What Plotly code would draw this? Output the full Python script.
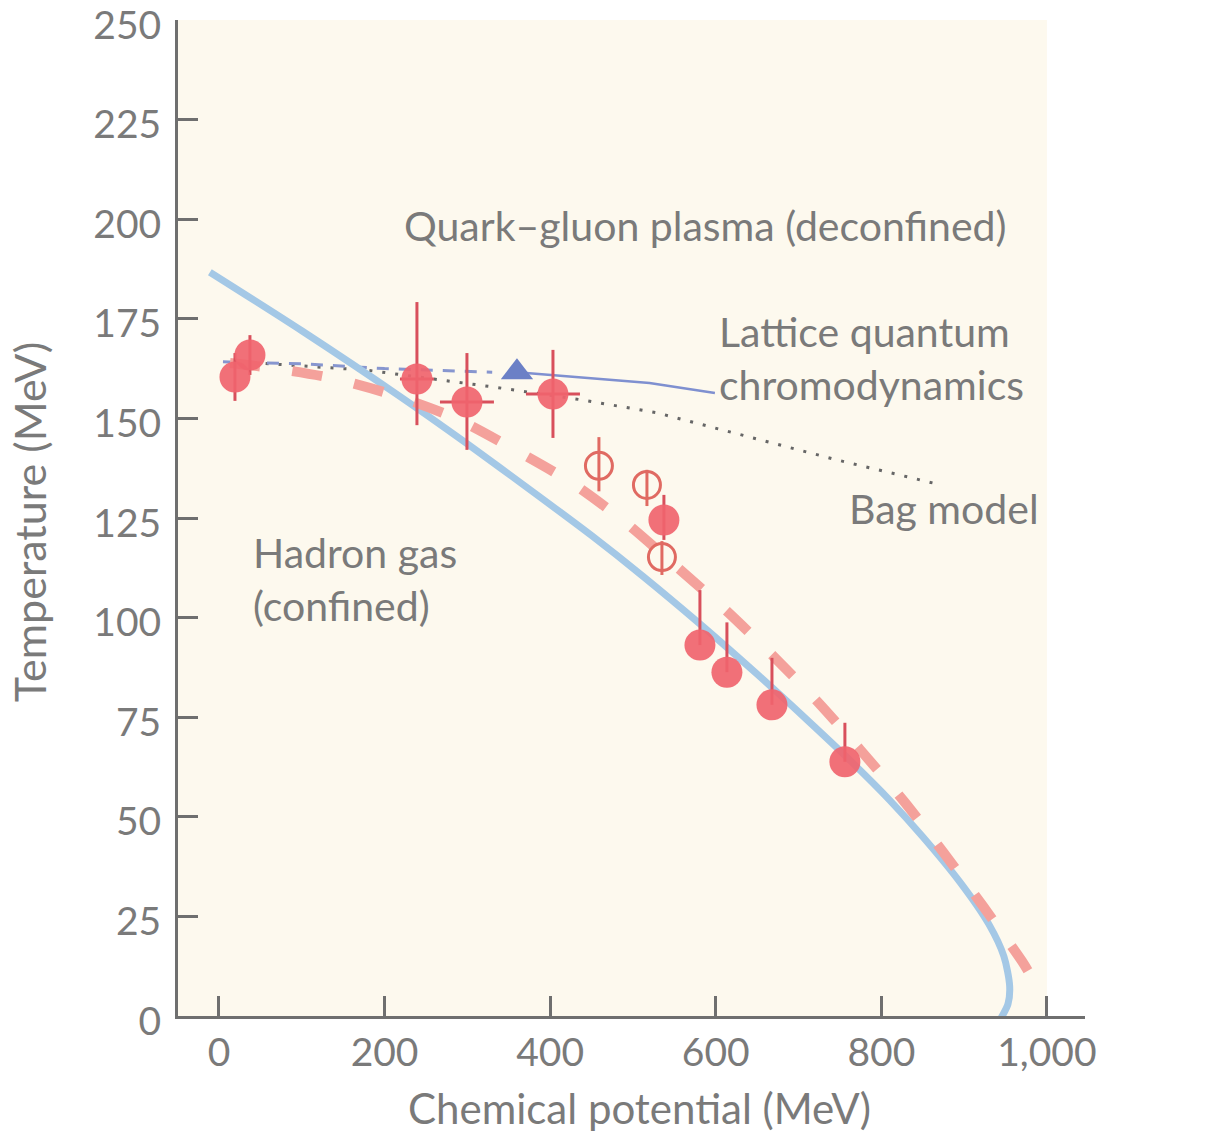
import plotly.graph_objects as go

# ---------------- data ----------------
# Blue solid phase boundary curve
curve_mu = [-11, 100, 218, 300, 379, 450, 512, 581, 650, 710, 760, 810, 850, 895, 930, 948, 955, 953, 946, 938]
curve_T = [186.7, 172.0, 155.6, 143.6, 131.6, 120.6, 110.4, 98.4, 85.8, 74.4, 64.6, 54.2, 45.0, 33.6, 23.0, 15.0, 7.5, 3.0, 0.0, -2.8]

# Red dashed freeze-out curve
fo_mu = [13.3, 61.6, 136.5, 210.1, 285.0, 357.5, 426.3, 490.3, 553.1, 613.5, 669.1, 723.4, 774.2, 828.5, 874.4, 922.7, 969.8, 979.5]
fo_T = [163.9, 162.7, 160.1, 155.9, 150.1, 142.1, 133.8, 124.0, 112.7, 101.6, 90.4, 78.8, 66.9, 53.6, 41.2, 27.6, 13.8, 10.5]

# Lattice QCD (dashed part, solid part)
lat_dash_mu = [4.8, 100, 200, 330]
lat_dash_T = [164.2, 163.7, 162.5, 161.6]
lat_solid_mu = [360, 520, 599]
lat_solid_T = [161.6, 158.9, 156.4]

# Bag model (dotted)
bag_mu = [25, 179, 331, 440, 529, 641, 746, 862]
bag_T = [164.2, 162.1, 157.9, 154.6, 151.4, 145.3, 139.6, 133.8]

# Filled data points
fill_mu = [37.4, 19.3, 239.1, 299.5, 403.4, 537.4, 580.9, 613.5, 667.9, 756.0]
fill_T = [165.9, 160.4, 159.9, 154.1, 156.1, 124.5, 93.1, 86.3, 78.1, 63.8]
fill_err_up = [5, 6, 19.3, 12.3, 11.1, 6.3, 13.8, 12.5, 11.8, 9.8]
fill_err_dn = [5, 6, 11.6, 12.0, 11.0, 5.0, 0, 0, 0, 0]
fill_xerr = [0, 0, 20.5, 32.6, 32.6, 0, 0, 0, 0, 0]

# Open data points
open_mu = [458.9, 516.9, 535.0]
open_T = [138.1, 133.3, 115.2]
open_err_up = [7.2, 3.8, 4.0]
open_err_dn = [6.4, 5.3, 4.5]

# Lattice point (triangle)
tri_mu = [359.9]
tri_T = [161.6]

x_ticks = [0, 200, 400, 600, 800, 1000]
x_ticktext = ["0", "200", "400", "600", "800", "1,000"]
y_ticks = [0, 25, 50, 75, 100, 125, 150, 175, 200, 225, 250]

FONT = "Lato"
GREY = "#7a7a7a"
AXC = "#6f6f6f"
TXT = 41

fig = go.Figure()

# cream background panel
fig.add_shape(type="rect", xref="x", yref="y", x0=-49.5, x1=1000, y0=0, y1=250,
              fillcolor="#fdf9ee", line_width=0, layer="below")

fig.add_trace(go.Scatter(x=bag_mu, y=bag_T, mode="lines",
                         line=dict(color="#666666", width=3, dash="3px,10px"),
                         hoverinfo="skip"))
fig.add_trace(go.Scatter(x=lat_dash_mu, y=lat_dash_T, mode="lines",
                         line=dict(color="#8796cf", width=3, dash="12px,10px"),
                         hoverinfo="skip"))
fig.add_trace(go.Scatter(x=lat_solid_mu, y=lat_solid_T, mode="lines",
                         line=dict(color="#7f90d0", width=2.5),
                         hoverinfo="skip"))
fig.add_trace(go.Scatter(x=curve_mu, y=curve_T, mode="lines",
                         line=dict(color="#a4c8e6", width=7, shape="spline", smoothing=0.8),
                         hoverinfo="skip"))
fig.add_trace(go.Scatter(x=fo_mu, y=fo_T, mode="lines",
                         line=dict(color="#f4a19b", width=10, dash="30px,33px",
                                   shape="spline", smoothing=0.8),
                         hoverinfo="skip"))

fig.add_trace(go.Scatter(
    x=fill_mu, y=fill_T, mode="markers",
    marker=dict(size=31, color="#f0646e", opacity=0.92, line=dict(width=0)),
    error_y=dict(type="data", symmetric=False, array=fill_err_up, arrayminus=fill_err_dn,
                 color="#d8505c", thickness=3, width=0),
    error_x=dict(type="data", array=fill_xerr, color="#d8505c", thickness=3, width=0),
))
fig.add_trace(go.Scatter(
    x=open_mu, y=open_T, mode="markers",
    marker=dict(size=27, symbol="circle-open", color="#e06a62", line=dict(width=3)),
    error_y=dict(type="data", symmetric=False, array=open_err_up, arrayminus=open_err_dn,
                 color="#e06a62", thickness=3, width=0),
))
fig.add_trace(go.Scatter(
    x=tri_mu, y=tri_T, mode="markers",
    marker=dict(size=28, symbol="triangle-up", color="#6b80c6"),
))

def ann(text, x, y, xanchor="left"):
    fig.add_annotation(text=text, x=x, y=y, xref="x", yref="y", showarrow=False,
                       xanchor=xanchor, yanchor="middle", align=xanchor,
                       font=dict(family=FONT, size=TXT, color=GREY))

ann("Quark–gluon plasma (deconfined)", 587, 198.5, xanchor="center")
ann("Lattice quantum<br>chromodynamics", 601, 165.2)
ann("Hadron gas<br>(confined)", 38.5, 109.7)
ann("Bag model", 758, 127.5)

fig.add_annotation(text="Chemical potential (MeV)", x=0.509, y=-0.0924, xref="paper", yref="paper",
                   showarrow=False, xanchor="center", yanchor="middle",
                   font=dict(family=FONT, size=42, color=GREY))
fig.add_annotation(text="Temperature (MeV)", x=-0.163, y=0.496, xref="paper", yref="paper",
                   showarrow=False, xanchor="center", yanchor="middle", textangle=-90,
                   font=dict(family=FONT, size=43, color=GREY))

axis_common = dict(showgrid=False, zeroline=False, showline=True, linecolor=AXC, linewidth=3,
                   ticks="inside", ticklen=20, tickwidth=3, tickcolor=AXC,
                   ticklabeloverflow="allow", automargin=False,
                   tickfont=dict(family=FONT, size=39, color=GREY))

fig.update_xaxes(range=[-49.5, 1046], tickvals=x_ticks, ticktext=x_ticktext, **axis_common)
fig.update_yaxes(range=[0, 250], tickvals=y_ticks, ticklabelstandoff=6, ticklabelshift=5,
                 **axis_common)

fig.update_layout(width=1207, height=1133, margin=dict(l=178, r=122, t=20, b=117, autoexpand=False),
                  paper_bgcolor="white", plot_bgcolor="white", showlegend=False)

fig.write_html("out.html")
